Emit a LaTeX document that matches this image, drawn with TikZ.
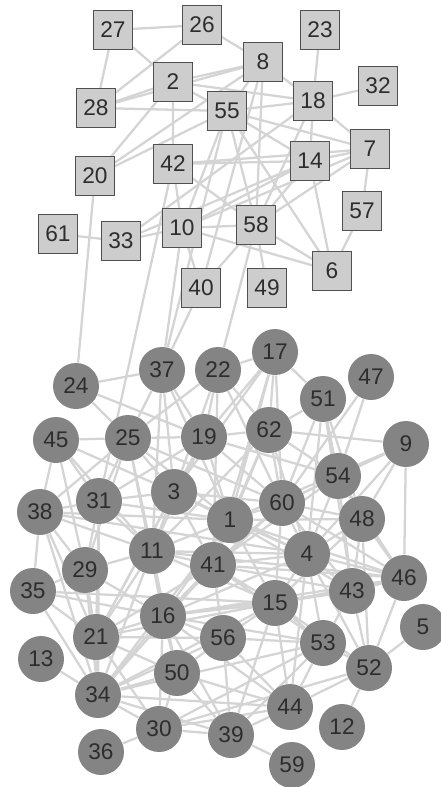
\documentclass[tikz,border=0pt]{standalone}
\usepackage{fontspec}
\setmainfont{Liberation Sans}
\usetikzlibrary{backgrounds}

\definecolor{sqfill}{RGB}{205,205,205}
\definecolor{sqline}{RGB}{80,80,80}
\definecolor{dotfill}{RGB}{132,132,132}
\definecolor{labtext}{RGB}{45,45,45}
\definecolor{edgecol}{RGB}{212,212,212}

\tikzset{every picture/.style={line width=0.75pt}}
\tikzset{
  sq/.style={rectangle, draw=sqline, fill=sqfill, line width=0.8pt, minimum size=29pt, inner sep=0pt, text=labtext, font=\fontsize{17}{19}\selectfont},
  dot/.style={circle, fill=dotfill, minimum size=34.5pt, inner sep=0pt, text=labtext, font=\fontsize{17}{19}\selectfont},
  edge/.style={draw=edgecol, line width=1.7pt}
}

\begin{document}
\begin{tikzpicture}[x=0.75pt,y=0.75pt,yscale=-1,xscale=1]
\useasboundingbox (0,0) rectangle (440,787);

% Square nodes
\node [sq] (n27) at (113,30) {27};
\node [sq] (n26) at (202,25) {26};
\node [sq] (n23) at (320,30) {23};
\node [sq] (n8) at (263,62) {8};
\node [sq] (n2) at (173,82) {2};
\node [sq] (n32) at (378,86) {32};
\node [sq] (n28) at (96,108) {28};
\node [sq] (n55) at (227,111) {55};
\node [sq] (n18) at (313,101) {18};
\node [sq] (n7) at (370,149) {7};
\node [sq] (n14) at (310,161) {14};
\node [sq] (n42) at (173,164) {42};
\node [sq] (n20) at (95,176) {20};
\node [sq] (n57) at (362,211) {57};
\node [sq] (n61) at (58,234) {61};
\node [sq] (n33) at (121,241) {33};
\node [sq] (n10) at (182,228) {10};
\node [sq] (n58) at (256,225) {58};
\node [sq] (n6) at (332,271) {6};
\node [sq] (n40) at (201,288) {40};
\node [sq] (n49) at (267,288) {49};

% Round nodes
\node [dot] (n24) at (76,386) {24};
\node [dot] (n37) at (162,370) {37};
\node [dot] (n22) at (218,370) {22};
\node [dot] (n17) at (275,352) {17};
\node [dot] (n51) at (323,399) {51};
\node [dot] (n47) at (371,377) {47};
\node [dot] (n45) at (56,440) {45};
\node [dot] (n25) at (128,438) {25};
\node [dot] (n19) at (204,437) {19};
\node [dot] (n62) at (269,430) {62};
\node [dot] (n9) at (406,444) {9};
\node [dot] (n54) at (338,476) {54};
\node [dot] (n31) at (99,501) {31};
\node [dot] (n3) at (174,492) {3};
\node [dot] (n38) at (40,512) {38};
\node [dot] (n60) at (282,503) {60};
\node [dot] (n1) at (230,520) {1};
\node [dot] (n48) at (362,519) {48};
\node [dot] (n11) at (152,551) {11};
\node [dot] (n29) at (85,570) {29};
\node [dot] (n41) at (213,565) {41};
\node [dot] (n4) at (307,554) {4};
\node [dot] (n46) at (404,578) {46};
\node [dot] (n35) at (33,591) {35};
\node [dot] (n43) at (352,591) {43};
\node [dot] (n15) at (275,603) {15};
\node [dot] (n16) at (163,616) {16};
\node [dot] (n21) at (96,637) {21};
\node [dot] (n56) at (223,638) {56};
\node [dot] (n53) at (323,643) {53};
\node [dot] (n5) at (423,627) {5};
\node [dot] (n13) at (41,659) {13};
\node [dot] (n52) at (369,668) {52};
\node [dot] (n50) at (177,673) {50};
\node [dot] (n34) at (98,695) {34};
\node [dot] (n44) at (290,707) {44};
\node [dot] (n30) at (159,729) {30};
\node [dot] (n12) at (342,727) {12};
\node [dot] (n39) at (231,735) {39};
\node [dot] (n36) at (101,752) {36};
\node [dot] (n59) at (292,765) {59};

\begin{scope}[on background layer]
% Upper group
\draw [edge] (n27) -- (n26) (n27) -- (n28) (n27) -- (n2);
\draw [edge] (n26) -- (n8) (n26) -- (n28);
\draw [edge] (n2) -- (n28) (n2) -- (n8) (n2) -- (n18) (n2) -- (n42) (n2) -- (n20) (n2) -- (n55);
\draw [edge] (n28) -- (n55) (n28) -- (n8);
\draw [edge] (n8) -- (n18) (n8) -- (n55) (n8) -- (n58) (n8) -- (n40) (n8) -- (n20);
\draw [edge] (n23) -- (n18) (n32) -- (n18);
\draw [edge] (n18) -- (n7) (n18) -- (n14) (n18) -- (n55) (n18) -- (n58) (n18) -- (n33);
\draw [edge] (n55) -- (n7) (n55) -- (n14) (n55) -- (n58) (n55) -- (n10) (n55) -- (n6) (n55) -- (n37);
\draw [edge] (n42) -- (n14) (n42) -- (n58) (n42) -- (n10) (n42) -- (n31) (n42) -- (n7);
\draw [edge] (n14) -- (n10) (n14) -- (n33) (n14) -- (n6) (n14) -- (n58) (n14) -- (n7);
\draw [edge] (n7) -- (n10) (n7) -- (n58) (n7) -- (n57);
\draw [edge] (n57) -- (n6) (n58) -- (n6) (n10) -- (n6) (n10) -- (n58) (n10) -- (n33) (n61) -- (n33);
\draw [edge] (n20) -- (n55) (n20) -- (n24);
\draw [edge] (n10) -- (n40) (n10) -- (n37) (n40) -- (n37) (n58) -- (n40) (n58) -- (n49) (n58) -- (n22);
% Lower group
\draw [edge] (n24) -- (n37) (n24) -- (n25) (n24) -- (n19);
\draw [edge] (n37) -- (n25) (n37) -- (n19) (n37) -- (n3) (n37) -- (n1) (n37) -- (n11);
\draw [edge] (n22) -- (n17) (n22) -- (n19) (n22) -- (n62) (n22) -- (n60) (n22) -- (n3) (n22) -- (n25) (n22) -- (n41);
\draw [edge] (n17) -- (n51) (n17) -- (n62) (n17) -- (n19) (n17) -- (n1) (n17) -- (n41) (n17) -- (n60) (n17) -- (n3);
\draw [edge] (n51) -- (n62) (n51) -- (n54) (n51) -- (n48) (n51) -- (n4) (n51) -- (n60) (n51) -- (n43);
\draw [edge] (n47) -- (n54) (n47) -- (n60);
\draw [edge] (n45) -- (n38) (n45) -- (n25) (n45) -- (n31) (n45) -- (n3) (n45) -- (n29) (n45) -- (n11);
\draw [edge] (n25) -- (n31) (n25) -- (n38) (n25) -- (n3) (n25) -- (n19) (n25) -- (n11) (n25) -- (n29) (n25) -- (n1) (n25) -- (n60) (n25) -- (n16);
\draw [edge] (n19) -- (n3) (n19) -- (n62) (n19) -- (n1) (n19) -- (n11) (n19) -- (n60) (n19) -- (n54) (n19) -- (n31) (n19) -- (n21);
\draw [edge] (n62) -- (n60) (n62) -- (n54) (n62) -- (n1) (n62) -- (n4) (n62) -- (n41) (n62) -- (n9) (n62) -- (n11);
\draw [edge] (n9) -- (n54) (n9) -- (n46) (n9) -- (n48) (n9) -- (n60) (n9) -- (n4) (n9) -- (n1);
\draw [edge] (n54) -- (n48) (n54) -- (n60) (n54) -- (n4) (n54) -- (n46) (n54) -- (n43) (n54) -- (n41);
\draw [edge] (n31) -- (n38) (n31) -- (n3) (n31) -- (n11) (n31) -- (n1) (n31) -- (n29) (n31) -- (n21) (n31) -- (n34);
\draw [edge] (n3) -- (n1) (n3) -- (n11) (n3) -- (n41) (n3) -- (n60) (n3) -- (n4) (n3) -- (n21);
\draw [edge] (n38) -- (n35) (n38) -- (n29) (n38) -- (n11) (n38) -- (n21) (n38) -- (n34) (n38) -- (n1) (n38) -- (n4);
\draw [edge] (n60) -- (n1) (n60) -- (n4) (n60) -- (n48) (n60) -- (n46) (n60) -- (n41) (n60) -- (n15) (n60) -- (n16) (n60) -- (n43);
\draw [edge] (n1) -- (n41) (n1) -- (n4) (n1) -- (n11) (n1) -- (n15) (n1) -- (n46) (n1) -- (n43) (n1) -- (n16) (n1) -- (n48) (n1) -- (n34);
\draw [edge] (n48) -- (n46) (n48) -- (n4) (n48) -- (n43) (n48) -- (n52) (n48) -- (n15);
\draw [edge] (n11) -- (n41) (n11) -- (n29) (n11) -- (n16) (n11) -- (n21) (n11) -- (n34) (n11) -- (n15) (n11) -- (n4) (n11) -- (n50) (n11) -- (n46);
\draw [edge] (n29) -- (n35) (n29) -- (n21) (n29) -- (n34) (n29) -- (n16);
\draw [edge] (n41) -- (n4) (n41) -- (n15) (n41) -- (n16) (n41) -- (n56) (n41) -- (n21) (n41) -- (n34) (n41) -- (n43) (n41) -- (n46) (n41) -- (n53);
\draw [edge] (n4) -- (n46) (n4) -- (n43) (n4) -- (n15) (n4) -- (n53) (n4) -- (n52) (n4) -- (n16) (n4) -- (n44);
\draw [edge] (n46) -- (n43) (n46) -- (n52) (n46) -- (n15) (n46) -- (n16);
\draw [edge] (n35) -- (n21) (n35) -- (n34) (n35) -- (n16) (n35) -- (n15);
\draw [edge] (n43) -- (n52) (n43) -- (n15) (n43) -- (n53) (n43) -- (n16);
\draw [edge] (n15) -- (n56) (n15) -- (n53) (n15) -- (n44) (n15) -- (n16) (n15) -- (n21) (n15) -- (n39) (n15) -- (n52) (n15) -- (n34);
\draw [edge] (n16) -- (n21) (n16) -- (n50) (n16) -- (n56) (n16) -- (n34) (n16) -- (n30) (n16) -- (n44) (n16) -- (n53) (n16) -- (n39);
\draw [edge] (n21) -- (n34) (n21) -- (n50) (n21) -- (n30) (n21) -- (n56);
\draw [edge] (n56) -- (n50) (n56) -- (n53) (n56) -- (n39) (n56) -- (n44) (n56) -- (n34);
\draw [edge] (n53) -- (n52) (n53) -- (n44) (n53) -- (n30) (n53) -- (n39) (n53) -- (n34);
\draw [edge] (n5) -- (n52) (n13) -- (n34);
\draw [edge] (n52) -- (n12) (n52) -- (n44) (n52) -- (n30);
\draw [edge] (n50) -- (n34) (n50) -- (n30) (n50) -- (n44) (n50) -- (n39);
\draw [edge] (n34) -- (n30) (n34) -- (n44) (n34) -- (n39);
\draw [edge] (n44) -- (n39) (n44) -- (n30);
\draw [edge] (n30) -- (n36) (n30) -- (n39) (n39) -- (n59);
\end{scope}

\end{tikzpicture}
\end{document}
